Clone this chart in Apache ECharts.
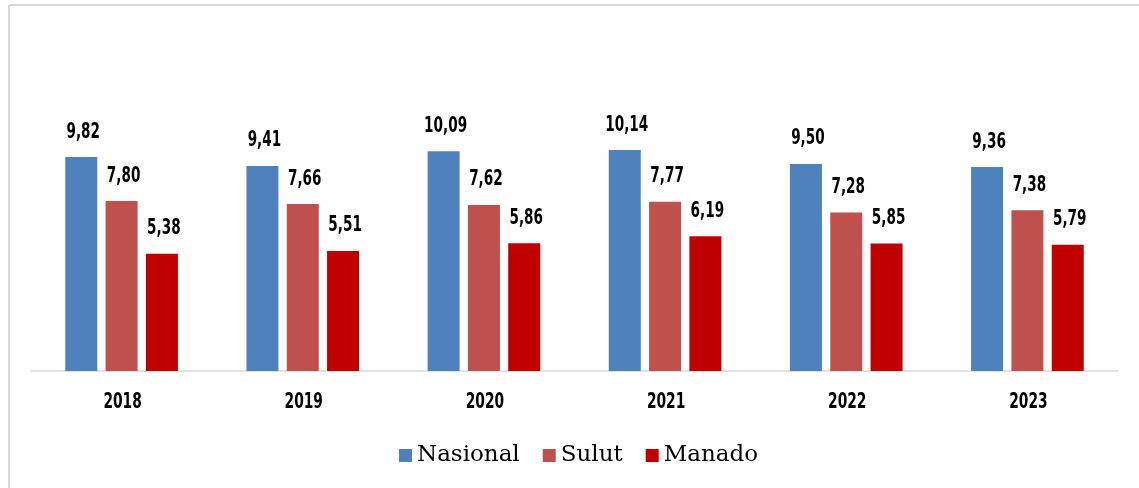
<!DOCTYPE html>
<html>
<head>
<meta charset="utf-8">
<script src="https://cdn.jsdelivr.net/npm/echarts@6/dist/echarts.min.js"></script>
<style>
  html, body { margin: 0; padding: 0; background: #fff; }
  #chart { width: 1139px; height: 488px; }
</style>
</head>
<body>
<div id="chart"></div>
<script>
const years = ["2018", "2019", "2020", "2021", "2022", "2023"];
const nasional = [9.82, 9.41, 10.09, 10.14, 9.50, 9.36];
const sulut = [7.80, 7.66, 7.62, 7.77, 7.28, 7.38];
const manado = [5.38, 5.51, 5.86, 6.19, 5.85, 5.79];

// the original uses a narrow bold face; squeeze DejaVu Sans Condensed to match
const narrowFont = 'bold 21px "DejaVu Sans Condensed", sans-serif';
const BAR_W = 32;
const BAR_GAP = 0.26;
const STEP = BAR_W * (1 + BAR_GAP);

function barSeries(name, data, color) {
    return {
        name: name,
        type: "bar",
        data: data,
        barWidth: BAR_W,
        barGap: (BAR_GAP * 100) + "%",
        itemStyle: { color: color }
    };
}

// value labels above each bar, slot = -1, 0, 1 within the group
function labelSeries(data, slot) {
    return {
        type: "custom",
        silent: true,
        z: 5,
        data: data.map((v, i) => [i, v]),
        renderItem: function (params, api) {
            const p = api.coord([api.value(0), api.value(1)]);
            return {
                type: "text",
                x: p[0] + slot * STEP + 2,
                y: p[1] - 25,
                scaleX: 0.72,
                style: {
                    text: api.value(1).toFixed(2).replace(".", ","),
                    font: narrowFont,
                    fill: "#000",
                    align: "center",
                    verticalAlign: "middle"
                }
            };
        }
    };
}

const yearLabels = {
    type: "custom",
    silent: true,
    data: years.map((y, i) => [i, 0]),
    renderItem: function (params, api) {
        const p = api.coord([api.value(0), 0]);
        return {
            type: "text",
            x: p[0] + 1,
            y: p[1] + 32,
            scaleX: 0.73,
            style: {
                text: years[params.dataIndex],
                font: narrowFont,
                fill: "#000",
                align: "center",
                verticalAlign: "middle"
            }
        };
    }
};

const chart = echarts.init(document.getElementById("chart"));
chart.setOption({
    animation: false,
    graphic: [
        {
            type: "line",
            shape: { x1: 9, y1: 5, x2: 1139, y2: 5 },
            style: { stroke: "#d9d9d9", lineWidth: 2 },
            silent: true
        },
        {
            type: "line",
            shape: { x1: 9, y1: 5, x2: 9, y2: 488 },
            style: { stroke: "#d9d9d9", lineWidth: 2 },
            silent: true
        }
    ],
    grid: { left: 31, right: 21, top: 66, bottom: 117 },
    legend: {
        left: 399,
        top: 444,
        padding: 0,
        itemWidth: 13,
        itemHeight: 13,
        itemGap: 23,
        icon: "rect",
        textStyle: {
            fontFamily: '"DejaVu Serif", serif',
            fontSize: 23,
            color: "#000"
        },
        data: ["Nasional", "Sulut", "Manado"]
    },
    xAxis: {
        type: "category",
        data: years,
        axisLine: { lineStyle: { color: "#d9d9d9", width: 1.5 } },
        axisTick: { show: false },
        axisLabel: { show: false }
    },
    yAxis: {
        type: "value",
        min: 0,
        max: 14,
        show: false,
        splitLine: { show: false }
    },
    series: [
        barSeries("Nasional", nasional, "#4f81bd"),
        barSeries("Sulut", sulut, "#c0504d"),
        barSeries("Manado", manado, "#c00000"),
        labelSeries(nasional, -1),
        labelSeries(sulut, 0),
        labelSeries(manado, 1),
        yearLabels
    ]
});
</script>
</body>
</html>
